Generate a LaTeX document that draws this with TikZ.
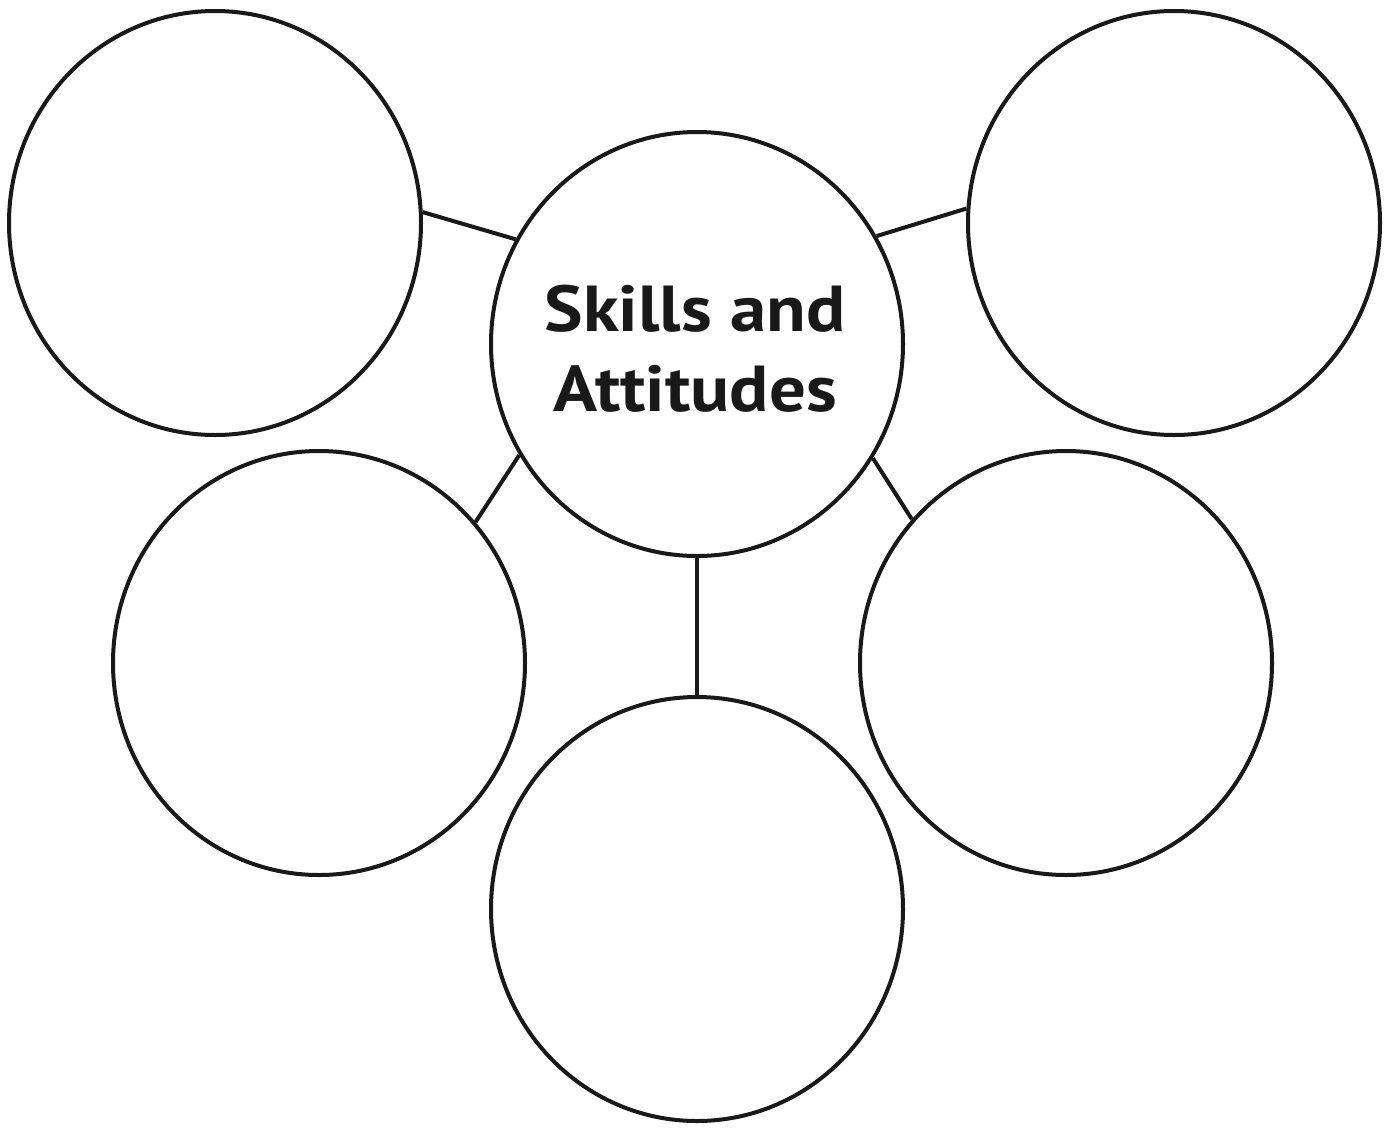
\documentclass[tikz,border=0pt]{standalone}
\usepackage{fontspec}
\newfontfamily\labelfont[FakeStretch=1.12]{PT Sans}
\usetikzlibrary{shapes.geometric}
\begin{document}
\begin{tikzpicture}[x=1pt,y=-1pt,
  bub/.style={draw=black!90,line width=4pt,ellipse,minimum width=412pt,minimum height=424pt,inner sep=0pt},
  link/.style={draw=black!90,line width=4pt}]
\useasboundingbox (0,0) rectangle (1391,1128);
\node[bub] (c) at (697,344) {};
\node[bub] (tl) at (215,223) {};
\node[bub] (tr) at (1174,223) {};
\node[bub] (ml) at (319,663) {};
\node[bub] (mr) at (1066,663) {};
\node[bub] (b) at (697,909) {};
\node[align=center,font=\labelfont\bfseries\fontsize{65}{80}\selectfont,text=black!90] (t) at (695,349) {Skills and\\Attitudes};
\draw[link] (tl.3.9) -- (c.150.1);
\draw[link] (tr.176.7) -- (c.31.9);
\draw[link] (ml.42.1) -- (c.212.6);
\draw[link] (mr.137.5) -- (c.-33.8);
\draw[link] (c.south) -- (b.north);
\end{tikzpicture}
\end{document}
